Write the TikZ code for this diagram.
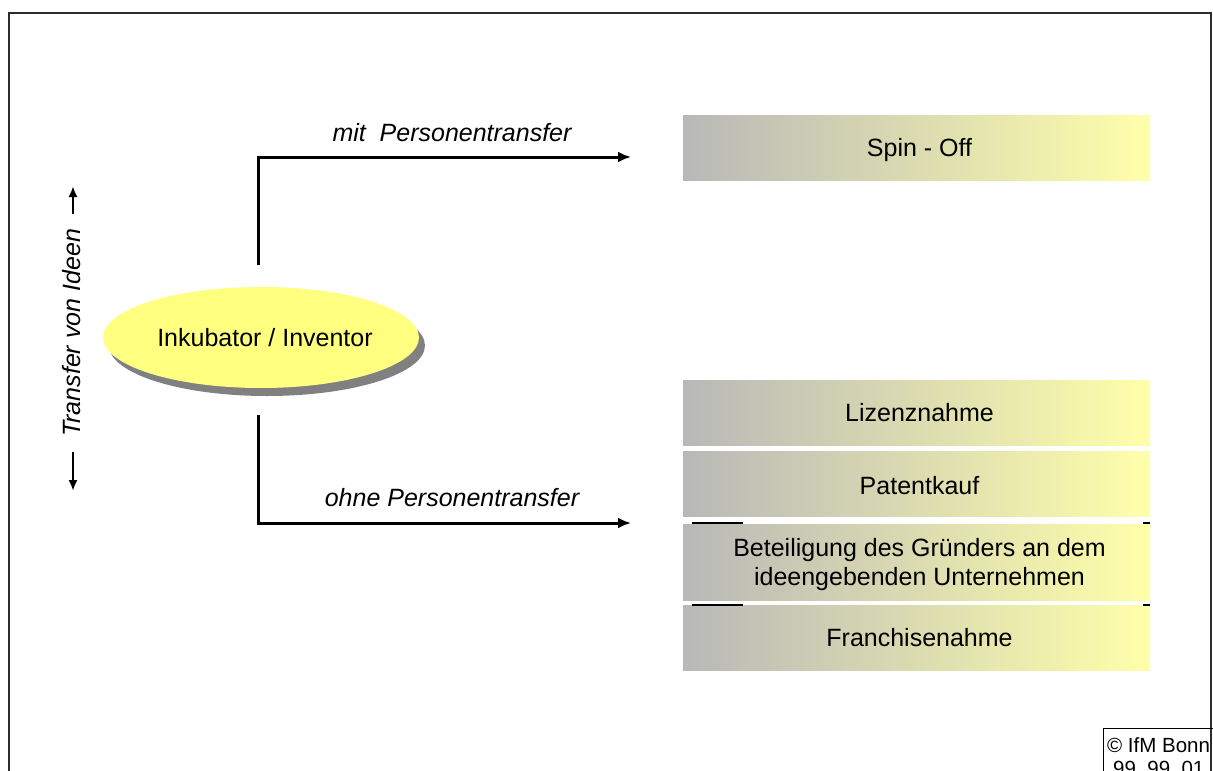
\documentclass[tikz,border=0pt]{standalone}
\usepackage{fontspec}
\setmainfont{Liberation Sans}
\usetikzlibrary{shapes.geometric,arrows.meta,shadows}
\definecolor{gL}{RGB}{184,184,184}
\definecolor{gR}{RGB}{255,255,170}
\definecolor{ellY}{RGB}{255,255,128}
\definecolor{shadowG}{RGB}{128,128,128}
\definecolor{frameC}{RGB}{45,45,45}
\begin{document}
\begin{tikzpicture}[x=1pt,y=-1pt,
  txt/.style={font=\fontsize{25}{29}\selectfont},
  itxt/.style={font=\fontsize{25}{30}\selectfont\itshape},
  optbox/.style={txt, minimum width=467pt, minimum height=65pt, inner sep=0pt,
    left color=gL, right color=gR, align=center, text=black},
  conn/.style={line width=3pt, -{Latex[length=13pt,width=11pt]}},
  sidearrow/.style={line width=2.6pt, -{Latex[length=11pt,width=9pt]}},
  tick/.style={line width=1.4pt, black},
  frameline/.style={line width=2.2pt, frameC}
]
\useasboundingbox (0,0) rectangle (1213,771);
\clip (0,0) rectangle (1213,771);
\fill[white] (0,0) rectangle (1213,771);

% frame
\draw[frameline] (9,790) -- (9,13) -- (1211,13) -- (1211,790);

% ellipse
\node[ellipse, txt, fill=ellY, minimum width=310pt, minimum height=101pt, inner sep=0pt,
  drop shadow={shadow xshift=6pt, shadow yshift=-8pt, fill=shadowG, opacity=1}]
  (inc) at (261,337.5) {\hspace*{8pt}Inkubator / Inventor};

% option boxes
\node[optbox] (spin) at (916.5,147.5) {\rule{0pt}{23pt}\hspace*{6pt}Spin - Off};
\node[optbox] (liz) at (916.5,413) {\hspace*{6pt}Lizenznahme};
\node[optbox] (pat) at (916.5,484) {\rule{0pt}{21pt}\hspace*{6pt}Patentkauf};
\node[optbox, minimum height=76pt] (bet) at (916.5,562) {\rule{0pt}{24pt}\hspace*{6pt}Beteiligung des Gründers an dem\\\hspace*{6pt}ideengebenden Unternehmen};
\node[optbox] (fra) at (916.5,638) {\hspace*{6pt}Franchisenahme};

% small separator ticks
\draw[tick] (692,523) -- (743,523);
\draw[tick] (1143,523) -- (1150,523);
\draw[tick] (692,605) -- (743,605);
\draw[tick] (1143,605) -- (1150,605);

% connectors
\coordinate (upstart) at (258,265);
\coordinate (upcorner) at (258,157);
\coordinate (upend) at (631,157);
\coordinate (downstart) at (258,415);
\coordinate (downcorner) at (258,523);
\coordinate (downend) at (631,523);
\draw[conn] (upstart) -- (upcorner) -- (upend);
\draw[conn] (downstart) -- (downcorner) -- (downend);

\node[itxt] (mitlbl) at (452,133) {mit\ \ Personentransfer};
\node[itxt] (ohnelbl) at (452,498) {ohne Personentransfer};

% side label
\node[itxt, rotate=90] (transfer) at (72,333) {Transfer von Ideen};
\coordinate (ua1) at (73,214);
\coordinate (ua2) at (73,186);
\coordinate (da1) at (73,452);
\coordinate (da2) at (73,491);
\draw[sidearrow] (ua1) -- (ua2);
\draw[sidearrow] (da1) -- (da2);

% copyright box
\draw[line width=1pt, black] (1103,790) -- (1103,728) -- (1213,728);
\node[font=\fontsize{20.5}{20}\selectfont, anchor=west, inner sep=0pt] (copy1) at (1107,745) {© IfM Bonn};
\node[font=\fontsize{20.5}{20}\selectfont, anchor=west, inner sep=0pt] (copy2) at (1113,768) {99\ \ 99\ \ 01};
\end{tikzpicture}
\end{document}
